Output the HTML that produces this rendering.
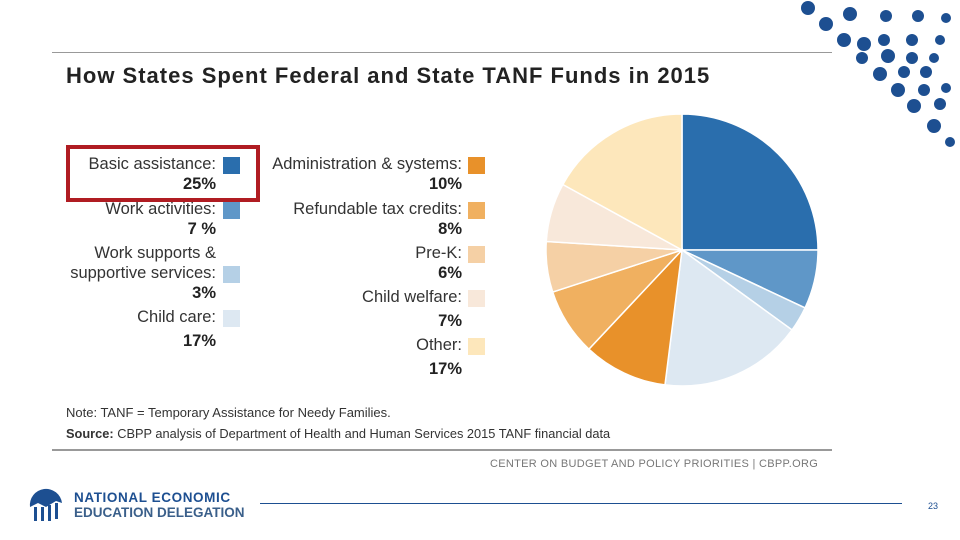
<!DOCTYPE html>
<html><head><meta charset="utf-8"><style>
body{margin:0;width:960px;height:540px;background:#fff;position:relative;overflow:hidden;font-family:"Liberation Sans",sans-serif;}
.a{position:absolute;}
.lab{position:absolute;text-align:right;font-size:16.5px;color:#333;line-height:20px;}
.pct{font-weight:bold;color:#222;}
.sw{position:absolute;width:17px;height:17px;}
</style></head><body>
<svg class="a" style="left:0;top:0" width="960" height="540">
<g fill="#1d4f91" id="dots"></g>
</svg>
<div class="a" style="left:52px;top:52px;width:780px;height:1px;background:#999"></div>
<div class="a" style="left:66px;top:63px;font-size:22px;letter-spacing:1px;font-weight:bold;color:#222">How States Spent Federal and State TANF Funds in 2015</div>
<div class="a" style="left:66px;top:145px;width:186px;height:49px;border:4px solid #b01c22"></div>

<div class="lab" style="right:744px;top:154px">Basic assistance:<br><span class="pct">25%</span></div>
<div class="sw" style="left:223px;top:157px;background:#2a6ead"></div>
<div class="lab" style="right:744px;top:199px">Work activities:<br><span class="pct">7 %</span></div>
<div class="sw" style="left:223px;top:202px;background:#5f97c8"></div>
<div class="lab" style="right:744px;top:243px">Work supports &amp;<br>supportive services:<br><span class="pct">3%</span></div>
<div class="sw" style="left:223px;top:266px;background:#b5d0e6"></div>
<div class="lab" style="right:744px;top:307px">Child care:<br><span class="pct" style="line-height:28px">17%</span></div>
<div class="sw" style="left:223px;top:310px;background:#dde8f2"></div>

<div class="lab" style="right:498px;top:154px">Administration &amp; systems:<br><span class="pct">10%</span></div>
<div class="sw" style="left:468px;top:157px;background:#e8912a"></div>
<div class="lab" style="right:498px;top:199px">Refundable tax credits:<br><span class="pct">8%</span></div>
<div class="sw" style="left:468px;top:202px;background:#f0b060"></div>
<div class="lab" style="right:498px;top:243px">Pre-K:<br><span class="pct">6%</span></div>
<div class="sw" style="left:468px;top:246px;background:#f5d0a5"></div>
<div class="lab" style="right:498px;top:287px">Child welfare:<br><span class="pct" style="line-height:28px">7%</span></div>
<div class="sw" style="left:468px;top:290px;background:#f8e8da"></div>
<div class="lab" style="right:498px;top:335px">Other:<br><span class="pct" style="line-height:28px">17%</span></div>
<div class="sw" style="left:468px;top:338px;background:#fde7bb"></div>

<svg class="a" style="left:0;top:0" width="960" height="540"><g id="pie"></g></svg>

<div class="a" style="left:66px;top:405px;font-size:13px;color:#333">Note: TANF = Temporary Assistance for Needy Families.</div>
<div class="a" style="left:66px;top:426px;font-size:12.8px;color:#333;font-weight:bold">Source: <span style="font-weight:normal">CBPP analysis of Department of Health and Human Services 2015 TANF financial data</span></div>
<div class="a" style="left:52px;top:449px;width:780px;height:2px;background:#999"></div>
<div class="a" style="left:490px;top:458px;font-size:11px;color:#777;letter-spacing:0.3px">CENTER ON BUDGET AND POLICY PRIORITIES | CBPP.ORG</div>

<svg class="a" style="left:28px;top:487px" width="36" height="36">
<path d="M2 20 A16 16 0 0 1 34 16 L28 14 L18 20 L10 16 Z" fill="#1d4f91"/>
<rect x="6" y="20" width="3" height="14" fill="#1d4f91"/><rect x="13" y="20" width="3" height="14" fill="#1d4f91"/><rect x="20" y="18" width="3" height="16" fill="#1d4f91"/><rect x="27" y="16" width="3" height="16" fill="#1d4f91"/>
</svg>
<div class="a" style="left:74px;top:490px;font-size:13.5px;font-weight:bold;color:#1d4f91;line-height:15px;letter-spacing:0.6px">NATIONAL ECONOMIC<br><span style="color:#3a5f8a;letter-spacing:0">EDUCATION DELEGATION</span></div>
<div class="a" style="left:260px;top:503px;width:642px;height:1px;background:#1d4f91"></div>
<div class="a" style="left:928px;top:501px;font-size:9px;color:#1d4f91">23</div>

<script>
const categories=["Basic assistance","Work activities","Work supports","Child care","Administration & systems","Refundable tax credits","Pre-K","Child welfare","Other"];
const values=[25,7,3,17,10,8,6,7,17];
const colors=["#2a6ead","#5f97c8","#b5d0e6","#dde8f2","#e8912a","#f0b060","#f5d0a5","#f8e8da","#fde7bb"];
const cx=682,cy=250,r=136;
const g=document.getElementById('pie');
const total=values.reduce((a,b)=>a+b,0);
let acc=0;
function pt(f){const a=f*2*Math.PI-Math.PI/2;return [cx+r*Math.cos(a),cy+r*Math.sin(a)];}
values.forEach((v,i)=>{
 const s=pt(acc/total),e=pt((acc+v)/total);acc+=v;
 const large=v/total>0.5?1:0;
 const p=document.createElementNS('http://www.w3.org/2000/svg','path');
 p.setAttribute('d',`M${cx},${cy}L${s[0]},${s[1]}A${r},${r} 0 ${large} 1 ${e[0]},${e[1]}Z`);
 p.setAttribute('fill',colors[i]);p.setAttribute('stroke','#fff');p.setAttribute('stroke-width','1.5');
 
 
 g.appendChild(p);
});
const dots=[[808,8,7],[826,24,7],[850,14,7],[886,16,6],[918,16,6],[946,18,5],[844,40,7],[864,44,7],[884,40,6],[912,40,6],[940,40,5],[862,58,6],[888,56,7],[912,58,6],[934,58,5],[880,74,7],[904,72,6],[926,72,6],[898,90,7],[924,90,6],[946,88,5],[914,106,7],[940,104,6],[934,126,7],[950,142,5]];
const dg=document.getElementById('dots');
dots.forEach(d=>{const c=document.createElementNS('http://www.w3.org/2000/svg','circle');c.setAttribute('cx',d[0]);c.setAttribute('cy',d[1]);c.setAttribute('r',d[2]);


dg.appendChild(c);});
</script>
</body></html>
